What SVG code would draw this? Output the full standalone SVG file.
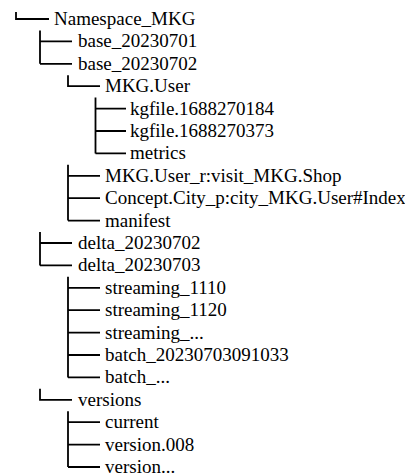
<svg xmlns="http://www.w3.org/2000/svg" width="405" height="476" viewBox="0 0 405 476">
<style>
.c{fill:none;stroke:#000;stroke-width:1.8}
</style>
<rect width="405" height="476" fill="#fff"/>
<g id="connectors" class="c">
<path d="M16 12V19H49"/>
<path d="M40 30.4V63.8M40 41.4H72M40 63.8H72"/>
<path d="M68 75.2V86.2H100"/>
<path d="M95.5 97.6V153.4M95.5 108.6H126M95.5 131H126M95.5 153.4H126"/>
<path d="M68 164.8V220.6M68 175.8H100M68 198.2H100M68 220.6H100"/>
<path d="M40 232V265.4M40 243H72M40 265.4H72"/>
<path d="M68 276.8V377.4M68 287.8H100M68 310.2H100M68 332.6H100M68 355H100M68 377.4H100"/>
<path d="M40 388.8V399.8H72"/>
<path d="M68 411.2V467M68 422.2H100M68 444.6H100M68 467H100"/>
</g>
<g font-family="Liberation Serif, serif" font-size="19" fill="#000">
<g id="n0"><text x="54" y="25">Namespace_MKG</text></g>
<g id="n1"><text x="78" y="47.4">base_20230701</text></g>
<g id="n2"><text x="78" y="69.8">base_20230702</text></g>
<g id="n3"><text x="105" y="92.2">MKG.User</text></g>
<g id="n4"><text x="130" y="114.6">kgfile.1688270184</text></g>
<g id="n5"><text x="130" y="137">kgfile.1688270373</text></g>
<g id="n6"><text x="130" y="159.4">metrics</text></g>
<g id="n7"><text x="105" y="181.8">MKG.User_r:visit_MKG.Shop</text></g>
<g id="n8"><text x="105" y="204.2">Concept.City_p:city_MKG.User#Index</text></g>
<g id="n9"><text x="105" y="226.6">manifest</text></g>
<g id="n10"><text x="78" y="249">delta_20230702</text></g>
<g id="n11"><text x="78" y="271.4">delta_20230703</text></g>
<g id="n12"><text x="105" y="293.8">streaming_1110</text></g>
<g id="n13"><text x="105" y="316.2">streaming_1120</text></g>
<g id="n14"><text x="105" y="338.6">streaming_...</text></g>
<g id="n15"><text x="105" y="361">batch_20230703091033</text></g>
<g id="n16"><text x="105" y="383.4">batch_...</text></g>
<g id="n17"><text x="78" y="405.8">versions</text></g>
<g id="n18"><text x="105" y="428.2">current</text></g>
<g id="n19"><text x="105" y="450.6">version.008</text></g>
<g id="n20"><text x="105" y="473">version...</text></g>
</g>
</svg>
